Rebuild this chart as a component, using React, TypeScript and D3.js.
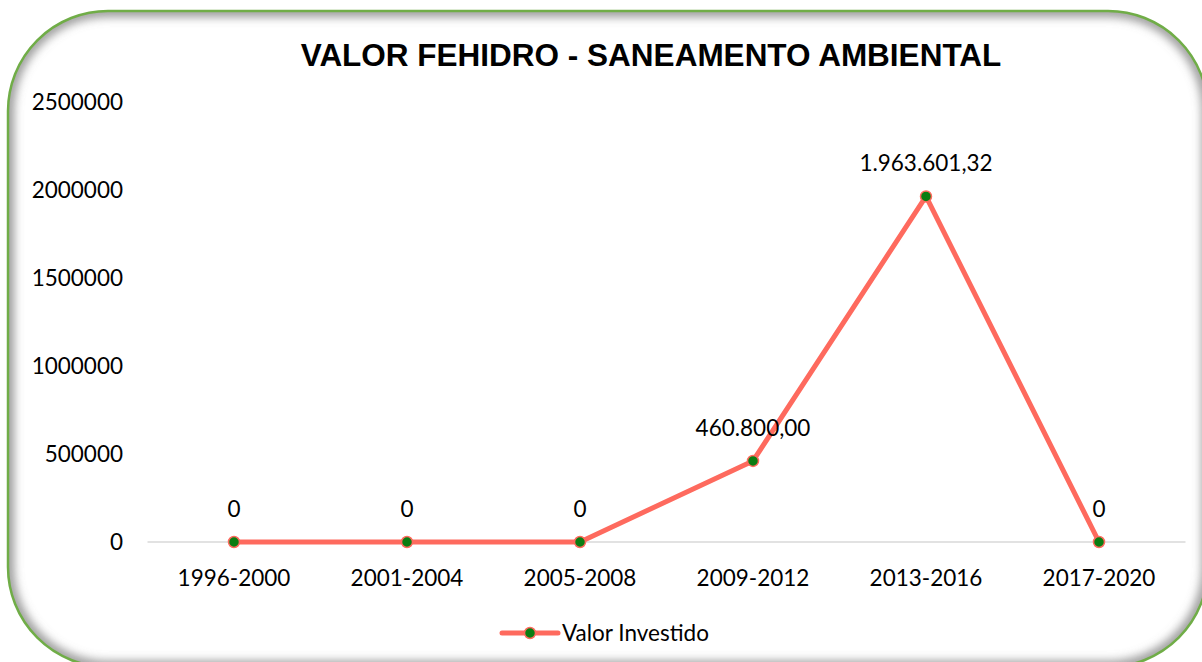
import React, { useEffect, useRef } from 'react'
import * as d3 from 'd3'

const periods = ['1996-2000', '2001-2004', '2005-2008', '2009-2012', '2013-2016', '2017-2020']
const valorInvestido = [0, 0, 0, 460800, 1963601.32, 0]
const valueLabels = ['0', '0', '0', '460.800,00', '1.963.601,32', '0']
const yTicks = [0, 500000, 1000000, 1500000, 2000000, 2500000]

const W = 1202
const H = 662
const FONT = 'Lato, "Open Sans", sans-serif'
const FS = 22.5
const LINE = '#fe6a5e'
const DOT = '#0a7d12'

export default function App() {
  const ref = useRef<SVGSVGElement>(null)

  useEffect(() => {
    const svg = d3.select(ref.current)
    svg.selectAll('*').remove()

    const frame = (sel: any) =>
      sel.append('rect').attr('x', 8).attr('y', 11).attr('width', 1200).attr('height', 656).attr('rx', 100)

    const defs = svg.append('defs')
    frame(defs.append('clipPath').attr('id', 'frameClip'))
    defs
      .append('filter')
      .attr('id', 'inner')
      .attr('x', '-10%')
      .attr('y', '-10%')
      .attr('width', '120%')
      .attr('height', '120%')
      .append('feGaussianBlur')
      .attr('stdDeviation', 5)

    // frame
    frame(svg).attr('fill', '#fff')
    frame(svg.append('g').attr('clip-path', 'url(#frameClip)'))
      .attr('fill', 'none')
      .attr('stroke', '#777')
      .attr('stroke-opacity', 0.75)
      .attr('stroke-width', 12)
      .attr('filter', 'url(#inner)')
    frame(svg).attr('fill', 'none').attr('stroke', '#70ad47').attr('stroke-width', 2.5)

    const x = d3.scalePoint<string>().domain(periods).range([147.5, 1185.5]).padding(0.5)
    const y = d3.scaleLinear().domain([0, 2500000]).range([542, 102])

    // title
    svg
      .append('text')
      .attr('x', 651)
      .attr('y', 66)
      .attr('text-anchor', 'middle')
      .attr('font-family', 'Arial, "Liberation Sans", sans-serif')
      .attr('font-weight', 'bold')
      .attr('font-size', 31.5)
      .text('VALOR FEHIDRO - SANEAMENTO AMBIENTAL')

    // y axis labels
    svg
      .append('g')
      .selectAll('text')
      .data(yTicks)
      .enter()
      .append('text')
      .attr('x', 123)
      .attr('y', d => y(d))
      .attr('dy', '0.35em')
      .attr('text-anchor', 'end')
      .attr('font-family', FONT)
      .attr('font-size', FS)
      .text(d => String(d))

    // baseline
    svg
      .append('line')
      .attr('x1', 147.5)
      .attr('x2', 1185.5)
      .attr('y1', y(0))
      .attr('y2', y(0))
      .attr('stroke', '#d9d9d9')
      .attr('stroke-width', 1.5)

    // x labels
    svg
      .append('g')
      .selectAll('text')
      .data(periods)
      .enter()
      .append('text')
      .attr('x', d => x(d) as number)
      .attr('y', 586)
      .attr('text-anchor', 'middle')
      .attr('font-family', FONT)
      .attr('font-size', FS)
      .text(d => d)

    const line = d3
      .line<number>()
      .x((_, i) => x(periods[i]) as number)
      .y(d => y(d))

    svg
      .append('path')
      .datum(valorInvestido)
      .attr('d', line)
      .attr('fill', 'none')
      .attr('stroke', LINE)
      .attr('stroke-width', 5)
      .attr('stroke-linejoin', 'round')

    svg
      .append('g')
      .selectAll('circle')
      .data(valorInvestido)
      .enter()
      .append('circle')
      .attr('cx', (_, i) => x(periods[i]) as number)
      .attr('cy', d => y(d))
      .attr('r', 5.5)
      .attr('fill', DOT)
      .attr('stroke', LINE)
      .attr('stroke-width', 1.5)

    svg
      .append('g')
      .selectAll('text')
      .data(valorInvestido)
      .enter()
      .append('text')
      .attr('x', (_, i) => x(periods[i]) as number)
      .attr('y', d => y(d) - 25)
      .attr('text-anchor', 'middle')
      .attr('font-family', FONT)
      .attr('font-size', FS)
      .text((_, i) => valueLabels[i])

    // legend
    const lg = svg.append('g').attr('transform', 'translate(502,633)')
    lg.append('line').attr('x1', 0).attr('x2', 56).attr('stroke', LINE).attr('stroke-width', 5).attr('stroke-linecap', 'round')
    lg.append('circle').attr('cx', 28).attr('r', 5.5).attr('fill', DOT).attr('stroke', LINE).attr('stroke-width', 1.5)
    lg
      .append('text')
      .attr('x', 60)
      .attr('dy', '0.35em')
      .attr('font-family', FONT)
      .attr('font-size', FS)
      .text('Valor Investido')
  }, [])

  return (
    <svg
      ref={ref}
      width={W}
      height={H}
      style={{ position: 'absolute', left: 0, top: 0, display: 'block' }}
    />
  )
}
